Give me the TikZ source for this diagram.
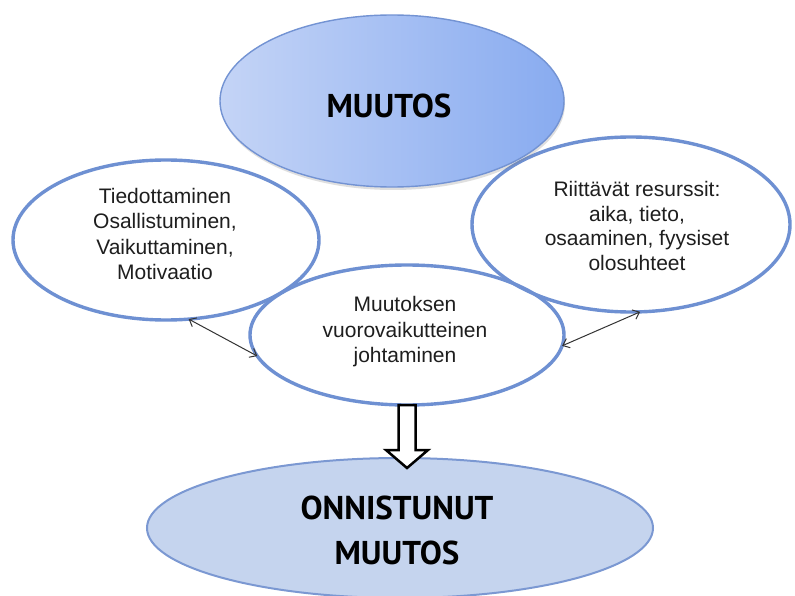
\documentclass[tikz,border=0pt]{standalone}
\usepackage{fontspec}
\setmainfont{Liberation Sans}
\newfontfamily\titlefont{PT Sans}
\usetikzlibrary{shapes.geometric,arrows.meta,shadows}
\definecolor{ringblue}{HTML}{6E90D2}
\definecolor{topL}{HTML}{C4D4F6}
\definecolor{topR}{HTML}{88ABF0}
\definecolor{topline}{HTML}{7393D3}
\definecolor{botfill}{HTML}{C5D4EE}
\definecolor{botline}{HTML}{7B98D2}
\definecolor{txt}{HTML}{1E1E1E}
\tikzset{
  ring/.style={ellipse, draw=ringblue, line width=3.4pt, inner sep=0pt, outer sep=0pt},
  topell/.style={ellipse, draw=topline, line width=1.4pt, left color=topL, right color=topR,
     inner sep=0pt, outer sep=0pt,
     drop shadow={opacity=0.25, shadow xshift=1pt, shadow yshift=-3pt}},
  botell/.style={ellipse, draw=botline, line width=2pt, fill=botfill, inner sep=0pt, outer sep=0pt},
  bodytext/.style={align=center, inner sep=0pt, text=txt, font=\fontsize{21}{25.5}\selectfont},
  titletext/.style={align=center, inner sep=0pt, text=black, font=\titlefont\bfseries\fontsize{33}{45}\selectfont},
  thinarrow/.style={{Straight Barb[length=6pt,width=10pt]}-{Straight Barb[length=6pt,width=10pt]}, line width=1pt, draw=black!80},
  hollowarrow/.style={draw=black, fill=white, line width=2.5pt, line join=miter}
}
\begin{document}
\begin{tikzpicture}[x=1pt,y=-1pt]
\useasboundingbox (0,0) rectangle (795,596);
\fill[white] (0,0) rectangle (795,596);
% white rings
\node[ring, minimum width=306pt, minimum height=160pt] (L) at (166,240) {};
\node[ring, minimum width=318pt, minimum height=175pt] (R) at (631,224.5) {};
\node[ring, minimum width=314pt, minimum height=140pt] (C) at (407,335) {};
% texts of rings
\node[bodytext] (Lt) at (165,234) {Tiedottaminen\\Osallistuminen,\\Vaikuttaminen,\\Motivaatio};
\node[bodytext, font=\fontsize{21}{24.5}\selectfont] (Rt) at (637,226) {Riittävät resurssit:\\aika, tieto,\\osaaminen, fyysiset\\olosuhteet};
\node[bodytext] (Ct) at (405,332) {Muutoksen\\vuorovaikutteinen\\johtaminen};
% top ellipse
\node[topell, minimum width=344pt, minimum height=172pt] (T) at (392,101) {};
\node[titletext] (Tt) at (389,106) {MUUTOS};
% bottom ellipse
\node[botell, minimum width=506pt, minimum height=140pt] (B) at (400,528) {};
\node[titletext] (Bt) at (397,530) {ONNISTUNUT\\MUUTOS};
% thin double arrows
\draw[thinarrow] (L.-74) -- (C.188);
\draw[thinarrow] (R.-84) -- (C.-4);
% hollow arrow
\draw[hollowarrow] (C.south) ++(-8.5,0) -- ++(0,45) -- ++(-12.5,0) -- ++(21,18) -- ++(21,-18) -- ++(-12.5,0) -- ++(0,-45) -- cycle;
\end{tikzpicture}
\end{document}
